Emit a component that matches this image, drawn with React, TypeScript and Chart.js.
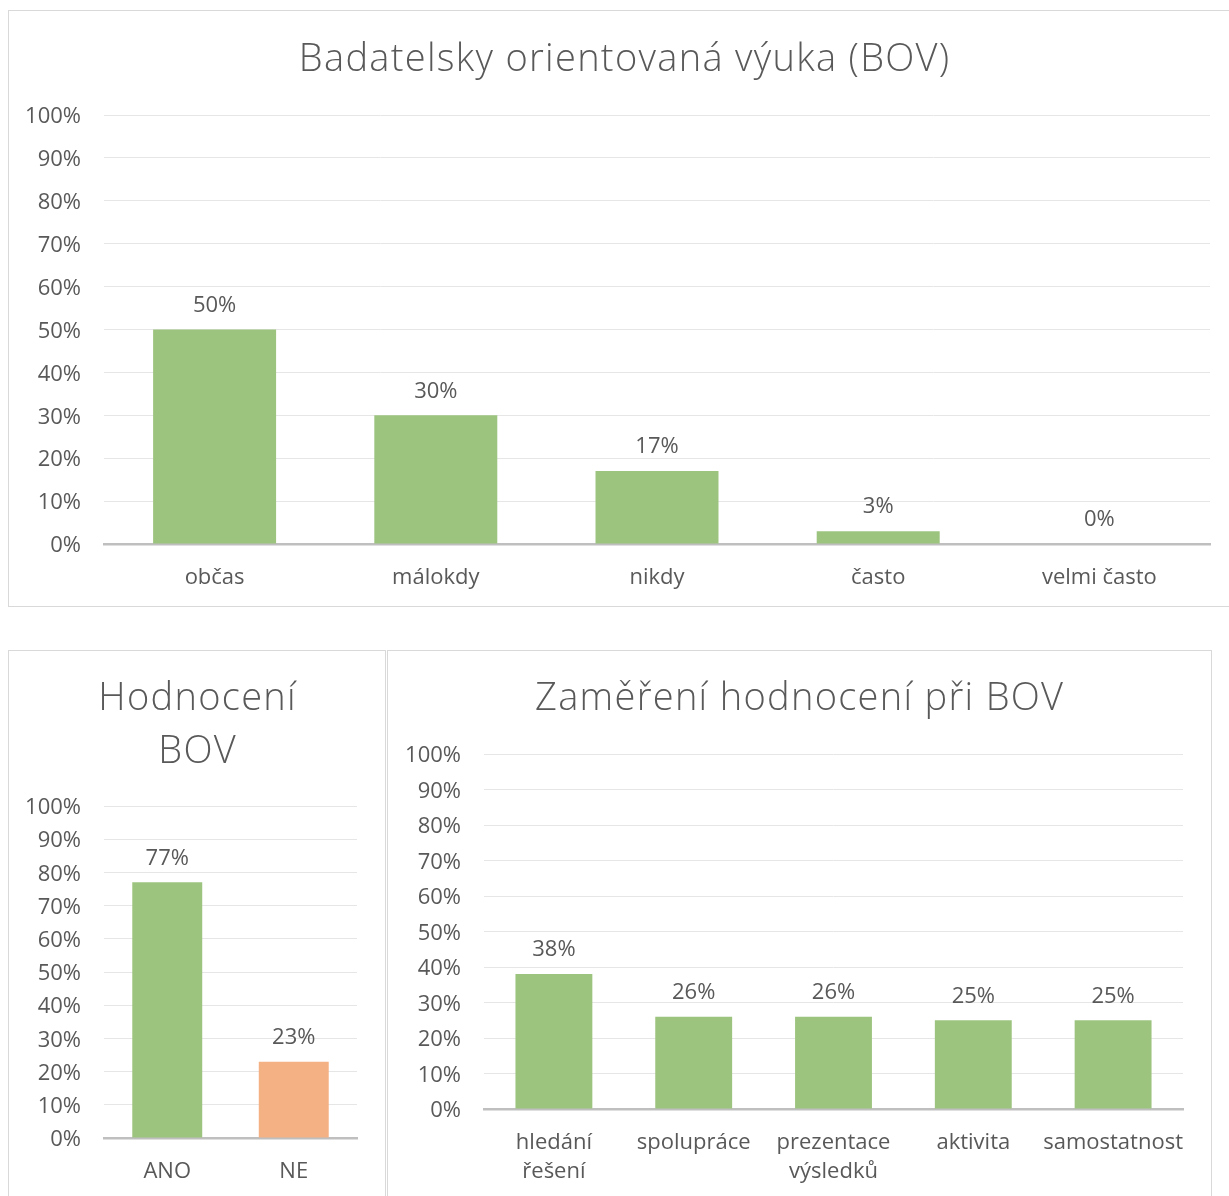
import React, { useEffect, useRef } from 'react';
import { Chart, registerables } from 'chart.js';

Chart.register(...registerables);

// ---------- data ----------
const bovTitle = ['Badatelsky orientovaná výuka (BOV)'];
const bovCategories = ['občas', 'málokdy', 'nikdy', 'často', 'velmi často'];
const bovValues = [50, 30, 17, 3, 0];

const hodTitle = ['Hodnocení', 'BOV'];
const hodCategories = ['ANO', 'NE'];
const hodValues = [77, 23];

const zamTitle = ['Zaměření hodnocení při BOV'];
const zamCategories = [['hledání', 'řešení'], ['spolupráce'], ['prezentace', 'výsledků'], ['aktivita'], ['samostatnost']];
const zamValues = [38, 26, 26, 25, 25];

const GREEN = '#9DC47F';
const ORANGE = '#F4B183';
const TEXT = '#595959';
const FONT = '"Open Sans", "DejaVu Sans", sans-serif';

const boxTitlePlugin = {
  id: 'boxTitle',
  afterDraw(chart: any, _args: any, opts: any) {
    const ctx = chart.ctx;
    ctx.save();
    ctx.font = `300 ${opts.size}px ${FONT}`;
    ctx.fillStyle = TEXT;
    ctx.textAlign = 'center';
    ctx.textBaseline = 'middle';
    try { (ctx as any).letterSpacing = '1.3px'; } catch (e) { /* ignore */ }
    (opts.lines as string[]).forEach((line, i) => {
      ctx.fillText(line, opts.x + 0.65, opts.y + i * opts.lineHeight);
    });
    ctx.restore();
  },
};

const valueLabelPlugin = {
  id: 'valueLabels',
  afterDatasetsDraw(chart: any) {
    const ctx = chart.ctx;
    ctx.save();
    ctx.font = `22px ${FONT}`;
    ctx.fillStyle = TEXT;
    ctx.textAlign = 'center';
    ctx.textBaseline = 'middle';
    chart.data.datasets.forEach((ds: any, di: number) => {
      const meta = chart.getDatasetMeta(di);
      meta.data.forEach((bar: any, i: number) => {
        ctx.fillText(`${ds.data[i]}%`, bar.x, bar.y - 24);
      });
    });
    ctx.restore();
  },
};

type Spec = {
  labels: any[];
  values: number[];
  colors: string[];
  title: string[];
  titleX: number;
  titleY: number;
  yWidth: number;
  xHeight: number;
  pad: { top: number; right: number; bottom: number; left: number };
  barPct: number;
};

function BarChart({ spec, width, height }: { spec: Spec; width: number; height: number }) {
  const ref = useRef<HTMLCanvasElement>(null);
  useEffect(() => {
    if (!ref.current) return;
    const chart = new Chart(ref.current, {
      type: 'bar',
      data: {
        labels: spec.labels,
        datasets: [
          {
            data: spec.values,
            backgroundColor: spec.colors,
            barPercentage: spec.barPct,
            categoryPercentage: 1,
          },
        ],
      },
      options: {
        animation: false,
        responsive: false,
        maintainAspectRatio: false,
        layout: { padding: spec.pad },
        plugins: {
          legend: { display: false },
          tooltip: { enabled: false },
          title: { display: false },
          boxTitle: { lines: spec.title, x: spec.titleX, y: spec.titleY, size: 38, lineHeight: 53 },
        } as any,
        scales: {
          x: {
            grid: { display: false, drawTicks: false },
            border: { display: true, color: '#BFBFBF', width: 2.5 },
            ticks: { color: TEXT, font: { family: FONT, size: 22, lineHeight: 1.32 }, padding: 19, maxRotation: 0, autoSkip: false },
            afterFit: (s: any) => { s.height = spec.xHeight; },
          },
          y: {
            min: 0,
            max: 100,
            grid: { color: '#E6E6E6', lineWidth: 1, drawTicks: false },
            border: { display: false },
            ticks: {
              stepSize: 10,
              color: TEXT,
              font: { family: FONT, size: 22 },
              padding: 23,
              labelOffset: 2,
              callback: (v: any) => `${v}%`,
            },
            afterFit: (s: any) => { s.width = spec.yWidth; },
          },
        },
      },
      plugins: [boxTitlePlugin, valueLabelPlugin],
    } as any);
    return () => chart.destroy();
  }, [spec]);
  return <canvas ref={ref} width={width} height={height} style={{ width, height, display: 'block' }} />;
}

const specA: Spec = {
  labels: bovCategories,
  values: bovValues,
  colors: bovValues.map(() => GREEN),
  title: bovTitle,
  titleX: 615,
  titleY: 49,
  yWidth: 95,
  xHeight: 50,
  pad: { top: 104, right: 18, bottom: 12, left: 0 },
  barPct: 0.556,
};

const specB: Spec = {
  labels: hodCategories,
  values: hodValues,
  colors: [GREEN, ORANGE],
  title: hodTitle,
  titleX: 188,
  titleY: 48,
  yWidth: 95,
  xHeight: 50,
  pad: { top: 155, right: 28, bottom: 8, left: 0 },
  barPct: 0.553,
};

const specC: Spec = {
  labels: zamCategories,
  values: zamValues,
  colors: zamValues.map(() => GREEN),
  title: zamTitle,
  titleX: 411,
  titleY: 48,
  yWidth: 96,
  xHeight: 80,
  pad: { top: 103, right: 28, bottom: 7, left: 0 },
  barPct: 0.55,
};

const boxStyle = (left: number, top: number, w: number, h: number): React.CSSProperties => ({
  position: 'absolute',
  left,
  top,
  width: w,
  height: h,
  border: '1px solid #D9D9D9',
  boxSizing: 'border-box',
  background: '#fff',
});

export default function App() {
  return (
    <div style={{ position: 'absolute', left: 0, top: 0, width: 1229, height: 1196, overflow: 'hidden', background: '#fff' }}>
      <div style={boxStyle(8, 10, 1232, 597)} />
      <div style={boxStyle(8, 650, 378, 600)} />
      <div style={boxStyle(387, 650, 825, 600)} />
      <div style={{ position: 'absolute', left: 9, top: 11 }}>
        <BarChart spec={specA} width={1219} height={595} />
      </div>
      <div style={{ position: 'absolute', left: 9, top: 651 }}>
        <BarChart spec={specB} width={376} height={545} />
      </div>
      <div style={{ position: 'absolute', left: 388, top: 651 }}>
        <BarChart spec={specC} width={823} height={545} />
      </div>
    </div>
  );
}
